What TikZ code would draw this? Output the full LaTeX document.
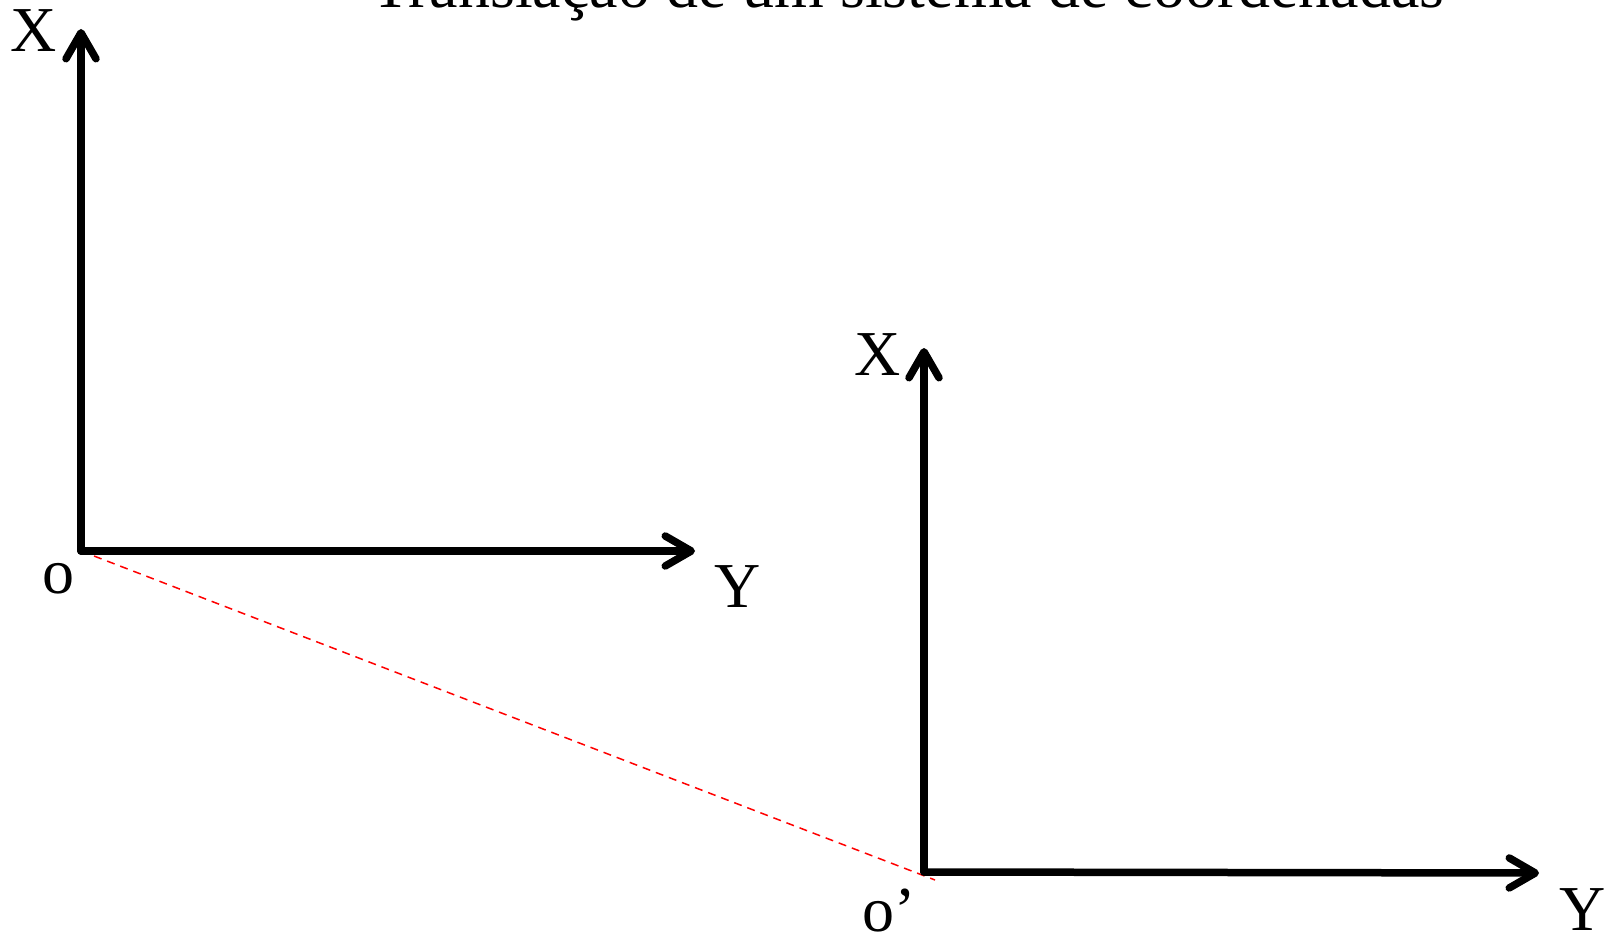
\documentclass[tikz,border=0pt]{standalone}
\usepackage{fontspec}
\setmainfont{Liberation Serif}
\usetikzlibrary{arrows.meta}

\begin{document}
\begin{tikzpicture}[x=1pt, y=-1pt,
    axis/.style={line width=7.5pt, line cap=round, line join=round,
      -{Straight Barb[length=26pt, width=30pt, line cap=round, line join=round]}},
    lbl/.style={anchor=base, inner sep=0pt, font=\fontsize{64}{64}\selectfont},
    transl/.style={red, line width=1.5pt, dash pattern=on 8pt off 6pt}]
  \useasboundingbox (0,0) rectangle (1607,936);

  % Title (cut at the top edge)
  \node[lbl] (title) at (908, 8) {Translação de um sistema de coordenadas};

  % First system
  \coordinate (o1) at (81, 551);
  \coordinate (x1) at (81, 29);
  \coordinate (y1) at (695, 551);

  % Second system
  \coordinate (o2) at (924, 872);
  \coordinate (x2) at (924, 348);
  \coordinate (y2) at (1539, 873);
  \coordinate (end) at (935, 880);

  % Translation
  \draw[transl] (o1) -- (end);

  % Axes
  \draw[axis] (o1) -- (x1);
  \draw[axis] (o1) -- (y1);
  \draw[axis] (o2) -- (x2);
  \draw[axis] (o2) -- (y2);

  % Labels
  \node[lbl] (lx1) at (34, 52) {X};
  \node[lbl] (lo1) at (58, 593) {o};
  \node[lbl] (ly1) at (738, 607) {Y};
  \node[lbl] (lx2) at (878, 375) {X};
  \node[lbl] (lo2) at (889, 931) {o’};
  \node[lbl] (ly2) at (1583, 930) {Y};
\end{tikzpicture}
\end{document}
